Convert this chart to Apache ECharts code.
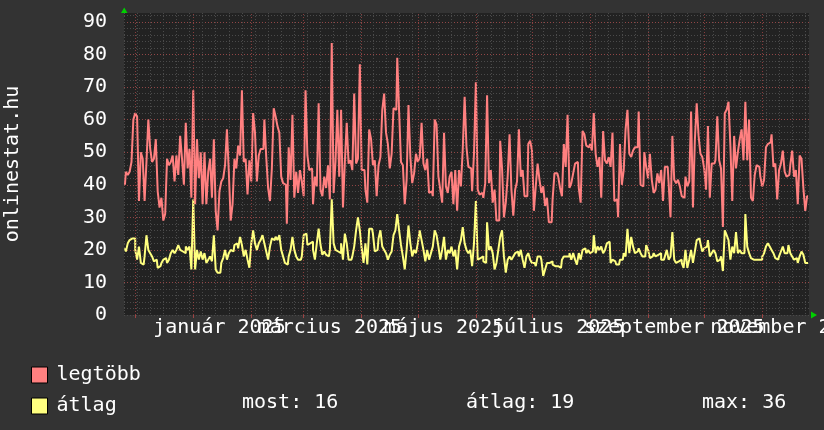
<!DOCTYPE html>
<html><head><meta charset="utf-8">
<script src="https://cdn.jsdelivr.net/npm/echarts@6/dist/echarts.min.js"></script>
<style>html,body{margin:0;padding:0;background:#333333;}#c{width:824px;height:430px;}</style>
</head><body><div id="c"></div>
<script>
// one value per day, starting Monday 2024-11-25
const legtobb = [
40,44,43,44,47,60,62,61,35,50,48,35,47,60,51,47,48,54,38,33,36,29,31,48,46,47,49,41,49,43,55,48,40,59,45,51,36,69,34,54,42,50,34,50,34,44,48,36,54,32,26,38,41,42,46,57,44,29,34,48,45,52,49,
69,47,48,37,47.5,41,62,56,41,49,51,51,60,48.5,39,35,45,63.5,61,58,56,42.5,40.5,40,28,51.5,41.5,61.5,36,44,37.5,44.5,41,36.5,69,49,44.5,45,34,42.5,39.5,65,38.5,36.5,42.5,39,46,35.5,83.5,37.5,47,63,42.5,63,33,47,59,46.5,47.5,44.5,68,46.5,
48,77,44.5,44.5,38.5,34.5,57,54,46,47.5,36.5,46,48.5,63,68,56,52.5,45,49.5,63.5,63,79,62.5,47,46,34,41.5,64.5,48.5,40.5,43.5,49.5,47,48.5,59,46.5,44.5,48,37.5,38,36.5,60,58.5,42.5,38.5,34.5,56,39.5,37.5,42.5,44,34,44.5,32,44.5,39.5,51,67,51.5,45.5,45,
38,49.5,71.5,38.5,37,37.5,36,40.5,67.5,40.5,44.5,34.5,38.5,29,29,53.5,45,30,34.5,42.5,55.5,38.5,30.5,38.5,41,57,42.5,44.5,36.5,36.5,52.5,53.5,50.5,32,39.5,46.5,41.5,37.5,39.5,33.5,36,28.5,28.5,35.5,43.5,43.5,42.5,39,36.5,52.5,45.5,61.5,39,40.5,43.5,46.5,47,39,34.5,56.5,55.5,52,51.5,
52.5,50.5,62,49.5,45.5,48.5,36,56.5,47.5,46.5,48.5,45.5,56,35,35.5,30,52.5,40,44.5,57,63,49.5,48.5,50.5,51.5,51.5,62.5,40,39.5,50,45.5,42,49.5,41.5,37.5,38.5,43.5,40.5,44.5,35,45.5,45.5,40.5,30,55,41.5,40.5,41.5,39.5,36.5,36,42.5,39.5,41,62.5,33,53.5,65,55,49.5,48.5,45,
38.5,58,36,46.5,46.5,47.5,61,47.5,45,27,62,63,65.5,52,35,55,45,50,54,57,47.5,65.5,47.5,60,36,35,43,46,45.5,42.5,39.5,41.5,51.5,52.5,53,55.5,45.5,46.5,35.5,44.5,46.5,50.5,44,42.5,43,46,50.5,42.5,44.5,34,49,48,39,32,36.5
];
const atlag = [
20.5,19.5,22,23,23.5,23.5,20,17,21,16,15.5,18,24.5,20,19,18,16.5,17,14.5,15,16,17,17.5,16,17,19,20,19,20,21.5,20,19.5,19,21,20,21,14,35.5,14,20,17,19.5,17,19,16,17,18,16.5,24.5,14,13,13,16,17.5,20,17,19,20,19.5,21.5,22,20.5,24,
21.5,18,20,17,14.5,22,26,22,20,22,23,24.5,22,19.5,17,21,23.5,23,24,23,24.5,20,18,16,15.5,18,20,24,20,18,17,17,18,24.5,25,21.5,22,22.5,20,17,22,26.5,21.5,18.5,19.5,18.5,18,20,35.5,22,20,19.5,19,22,17,25,22,17,17,18,21,26,
30,26,20.5,16,22,15.5,26.5,26.5,25,19.5,20,23.5,26,21,20,19,17,18.5,19.5,24.5,26,31,26,21.5,18,14,20,27.5,22,18,20,19,22,26,23,20,16.5,20,17,19,21,26,24.5,21,17,20,24,17,20,19,21,18,20,14,21,23,27,22,20,19,20,
15,22,35,17,17.5,18,16.5,16,28.5,20,21,19,14,16,20,24,26,18,13,17,18,17,18,19,19.5,18,20,17,14.5,18,19,17,16,16,15,18,18,17,12,14,16,16,16.5,15.5,15,15,15,14.5,17,18,18,18,19,17,19,17,15.5,19,17,20,20.5,19,20,
19,19.5,24.5,19,21,20,21,19,20,22,22.5,16,17,16.5,15.5,15.5,17,17,19,18,26.5,19,24,21,19,19.5,20.5,19,18,18,21.5,20,17.5,18,19,18,18.5,19,17,17,18,20,17,18,25.5,17,16,16.5,17,16,14.5,20,14.5,17,20,16,19.5,23,23.5,22,19.5,20.5,
21,23,18,19,20,19,16.5,17,18,13.5,26,24.5,23,17,21,19,25.5,19,20,19,19,31,21,19,17.5,17,17,17.5,17,17,18,19,21,22,21,20,19,17.5,17,18,19.5,21,19,19,21.5,19,18,17,17.5,16,18,19.5,18.5,16,16
];
const seriesNames = ['legtöbb', 'átlag'];
const monthStartDays = [6, 37, 68, 96, 127, 157, 188, 218, 249, 280, 310, 341];
const monthLabelDays = [51, 110, 171, 232, 294, 355];
const monthLabelTexts = ['január 2025', 'március 2025', 'május 2025', 'július 2025', 'szeptember 2025', 'november 2025'];
const yLabelValues = [0, 10, 20, 30, 40, 50, 60, 70, 80, 90];
const statLabels = ['most:', 'átlag:', 'max:'];
const statValues = [16, 19, 36];
const titleText = 'onlinestat.hu';

const FONT = '"DejaVu Sans Mono", monospace';
const PINK = '#ff8080', YELLOW = '#ffff80';
const DAYS = 366, YMAX = 92.75;
const GL = 124, GR = 809, GT = 13, GB = 315;

const chart = echarts.init(document.getElementById('c'), null, {renderer: 'canvas'});
const minor = {color: '#4a4a4a', width: 1, type: [1, 2]};
const major = {color: 'rgba(170,70,70,0.75)', width: 1, type: [1, 2]};

const statX = [242, 466, 702];
const graphics = [
  {type: 'text', x: 13, y: (GT + GB) / 2, rotation: Math.PI / 2,
   style: {text: titleText, fill: '#ffffff', font: '20px ' + FONT, textAlign: 'center', textVerticalAlign: 'middle'}},
  {type: 'polygon', shape: {points: [[121, 13], [127.5, 13], [124.2, 7.5]]}, style: {fill: '#00d000'}},
  {type: 'polygon', shape: {points: [[811, 311.5], [811, 318.5], [817, 315]]}, style: {fill: '#00d000'}}
];
statLabels.forEach((s, k) => {
  graphics.push({type: 'text', x: statX[k], y: 403,
    style: {text: s + ' ' + statValues[k], fill: '#ffffff', font: '20px ' + FONT, textAlign: 'left', textVerticalAlign: 'middle'}});
});

// two label axes so that overlapping month labels are all drawn (as in the original)
function labelAxis(parity) {
  const vals = monthLabelDays.filter((d, k) => k % 2 === parity);
  return {type: 'value', min: 0, max: DAYS, position: 'bottom', offset: 0,
    axisLine: {show: false}, splitLine: {show: false},
    axisTick: parity === 0
      ? {show: true, customValues: monthStartDays, length: 3, lineStyle: {color: 'rgba(170,70,70,0.9)'}}
      : {show: false},
    axisLabel: {show: true, customValues: vals, hideOverlap: false, showMinLabel: true, showMaxLabel: true,
      margin: 3, color: '#ffffff', fontFamily: FONT, fontSize: 20,
      formatter: v => { const k = monthLabelDays.indexOf(Math.round(v)); return k >= 0 ? monthLabelTexts[k] : ''; }}};
}

chart.setOption({
  animation: false,
  backgroundColor: '#333333',
  grid: {left: GL, right: 824 - GR, top: GT, bottom: 430 - GB, show: true, backgroundColor: '#222222',
         borderWidth: 0, containLabel: false, outerBoundsMode: 'none'},
  xAxis: [
    {type: 'value', min: 0, max: DAYS, interval: 7, position: 'bottom',
     axisLine: {show: false}, axisTick: {show: false}, axisLabel: {show: false},
     splitLine: {show: true, showMaxLine: false, lineStyle: minor}},
    labelAxis(0),
    labelAxis(1)
  ],
  yAxis: [
    {type: 'value', min: 0, max: YMAX, interval: 2, position: 'left',
     axisLine: {show: false}, axisTick: {show: false}, axisLabel: {show: false},
     splitLine: {show: true, showMaxLine: false, lineStyle: minor}},
    {type: 'value', min: 0, max: YMAX, interval: 10, position: 'left', offset: 0,
     axisLine: {show: false}, axisTick: {show: false},
     axisLabel: {show: true, margin: 17, color: '#ffffff', fontFamily: FONT, fontSize: 20,
       formatter: v => (yLabelValues.indexOf(v) >= 0 ? String(v) : '')},
     splitLine: {show: true, showMaxLine: false, showMinLine: false, lineStyle: major}}
  ],
  legend: {
    orient: 'vertical', left: 31, top: 365, padding: 0, itemWidth: 16, itemHeight: 16, itemGap: 11,
    selectedMode: false, icon: 'rect',
    textStyle: {color: '#ffffff', fontFamily: FONT, fontSize: 20, padding: [0, 0, 0, 4]},
    data: [
      {name: seriesNames[0], itemStyle: {color: PINK, borderColor: '#000', borderWidth: 1}},
      {name: seriesNames[1], itemStyle: {color: YELLOW, borderColor: '#000', borderWidth: 1}}
    ]
  },
  graphic: graphics,
  series: [
    {type: 'line', name: '_grid', data: [], xAxisIndex: 0, yAxisIndex: 0, z: 1, silent: true,
     markLine: {silent: true, symbol: ['none', 'none'], label: {show: false},
       lineStyle: major, emphasis: {disabled: true},
       data: monthStartDays.map(d => ({xAxis: d}))}},
    {type: 'line', name: seriesNames[0], xAxisIndex: 0, yAxisIndex: 0, z: 3,
     data: legtobb.map((v, i) => [i + 0.5, v]), step: 'middle', showSymbol: false,
     color: PINK, lineStyle: {color: PINK, width: 2}},
    {type: 'line', name: seriesNames[1], xAxisIndex: 0, yAxisIndex: 0, z: 4,
     data: atlag.map((v, i) => [i + 0.5, v]), step: 'middle', showSymbol: false,
     color: YELLOW, lineStyle: {color: YELLOW, width: 2}}
  ]
});
</script>
</body></html>
